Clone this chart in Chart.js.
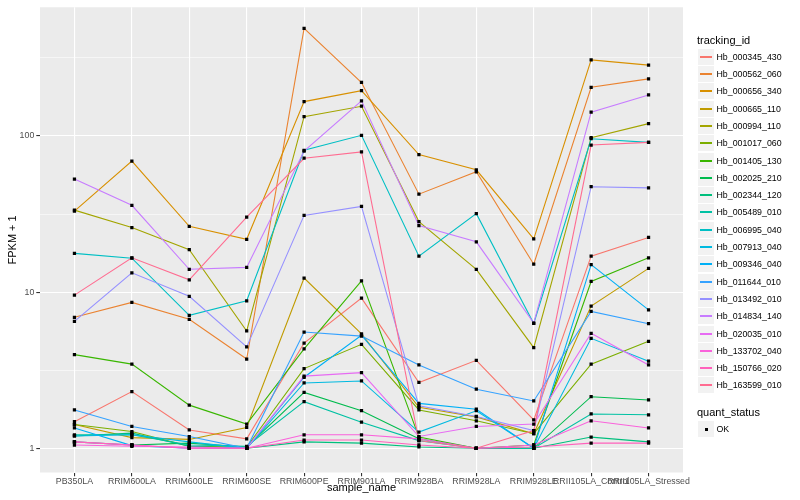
<!DOCTYPE html>
<html>
<head>
<meta charset="utf-8">
<script src="https://cdn.jsdelivr.net/npm/chart.js@4"></script>
<style>
  body { margin: 0; background: #fff; font-family: "Liberation Sans", Arial, sans-serif; }
  #wrap { position: relative; width: 800px; height: 500px; }
  #legend { position: absolute; left: 0; top: 0; width: 800px; height: 500px; pointer-events: none; }
  .ttl { position: absolute; left: 697px; font-size: 11px; color: #000; line-height: 13px; }
  .key { position: absolute; left: 697px; width: 16px; height: 16px; background: #F2F2F2; border: 1px solid #fff; }
  .key i { position: absolute; left: 2px; width: 12px; top: 7px; height: 2px; }
  .lab { position: absolute; left: 716.5px; font-size: 8.8px; color: #000; line-height: 18px; height: 18px; }
</style>
</head>
<body>
<div id="wrap">
  <canvas id="chart" width="800" height="500"></canvas>
  <div id="legend"></div>
</div>
<script>
(function () {
    var categories = ['PB350LA', 'RRIM600LA', 'RRIM600LE', 'RRIM600SE', 'RRIM600PE', 'RRIM901LA',
        'RRIM928BA', 'RRIM928LA', 'RRIM928LE', 'RRII105LA_Control', 'RRII105LA_Stressed'];

    // FPKM + 1, one value per sample_name
    var hb000345_430 = [1.48, 2.31, 1.31, 1.15, 4.72, 9.16, 2.64, 3.66, 1.52, 17.0, 22.4];
    var hb000562_060 = [6.9, 8.6, 6.7, 3.73, 489, 220, 42.4, 59, 15.1, 205, 232];
    var hb000656_340 = [33, 69, 26.4, 21.8, 166, 195, 76, 60.7, 21.9, 307, 284];
    var hb000665_110 = [1.42, 1.17, 1.14, 1.36, 12.3, 5.4, 1.83, 1.59, 1.24, 8.15, 14.2];
    var hb000994_110 = [33.5, 25.9, 18.7, 5.64, 133, 155, 28.3, 14.0, 4.41, 97.5, 120];
    var hb001017_060 = [1.42, 1.28, 1.03, 1.02, 3.24, 4.63, 1.76, 1.50, 1.24, 3.46, 4.84];
    var hb001405_130 = [3.98, 3.46, 1.89, 1.43, 4.33, 11.8, 1.18, 1.0, 1.05, 11.7, 16.6];
    var hb002025_210 = [1.1, 1.05, 1.08, 1.02, 2.28, 1.74, 1.15, 1.0, 1.0, 2.14, 2.04];
    var hb002344_120 = [1.2, 1.25, 1.03, 1.0, 1.10, 1.08, 1.02, 1.0, 1.0, 1.18, 1.10];
    var hb005489_010 = [1.22, 1.22, 1.05, 1.03, 1.99, 1.47, 1.12, 1.0, 1.0, 1.66, 1.64];
    var hb006995_040 = [17.7, 16.5, 7.1, 8.8, 81, 101, 17, 31.8, 6.3, 96, 91];
    var hb007913_040 = [1.2, 1.22, 1.1, 1.0, 2.62, 2.70, 1.27, 1.74, 1.0, 5.06, 3.61];
    var hb009346_040 = [1.35, 1.04, 1.0, 1.0, 2.85, 5.3, 1.94, 1.78, 1.0, 15, 7.7];
    var hb011644_010 = [1.76, 1.38, 1.19, 1.0, 5.55, 5.23, 3.42, 2.39, 2.01, 7.53, 6.28];
    var hb013492_010 = [6.5, 13.3, 9.4, 4.46, 31, 35.4, 1.87, 1.6, 1.30, 47.3, 46.5];
    var hb014834_140 = [53, 36, 14, 14.4, 80, 168, 26.7, 21, 6.34, 142, 183];
    var hb020035_010 = [1.1, 1.05, 1.0, 1.0, 2.9, 3.05, 1.19, 1.38, 1.43, 5.45, 3.42];
    var hb133702_040 = [1.05, 1.03, 1.02, 1.0, 1.22, 1.22, 1.15, 1.0, 1.05, 1.50, 1.35];
    var hb150766_020 = [1.1, 1.05, 1.0, 1.0, 1.13, 1.13, 1.05, 1.0, 1.02, 1.08, 1.08];
    var hb163599_010 = [9.57, 16.6, 12, 30.2, 72, 79, 1.12, 1.0, 1.3, 87.5, 91];

    var trackingIds = ['Hb_000345_430', 'Hb_000562_060', 'Hb_000656_340', 'Hb_000665_110', 'Hb_000994_110',
        'Hb_001017_060', 'Hb_001405_130', 'Hb_002025_210', 'Hb_002344_120', 'Hb_005489_010',
        'Hb_006995_040', 'Hb_007913_040', 'Hb_009346_040', 'Hb_011644_010', 'Hb_013492_010',
        'Hb_014834_140', 'Hb_020035_010', 'Hb_133702_040', 'Hb_150766_020', 'Hb_163599_010'];
    var seriesValues = [hb000345_430, hb000562_060, hb000656_340, hb000665_110, hb000994_110,
        hb001017_060, hb001405_130, hb002025_210, hb002344_120, hb005489_010,
        hb006995_040, hb007913_040, hb009346_040, hb011644_010, hb013492_010,
        hb014834_140, hb020035_010, hb133702_040, hb150766_020, hb163599_010];
    var quantStatus = ['OK'];
    var yTickLabels = [1, 10, 100];

    // ggplot hue palette for 20 groups
    var palette = ['#F8766D', '#EA8331', '#D89000', '#C09B00', '#A3A500', '#7CAE00', '#39B600', '#00BB4E',
        '#00BF7D', '#00C1A3', '#00BFC4', '#00BAE0', '#00B0F6', '#35A2FF', '#9590FF', '#C77CFF',
        '#E76BF3', '#FA62DB', '#FF62BC', '#FF6C91'];

    var minorTicks = yTickLabels.map(function (t) { return t * Math.sqrt(10); });
    var allYTicks = yTickLabels.concat(minorTicks).sort(function (a, b) { return a - b; });
    function isMajor(v) {
        return yTickLabels.some(function (t) { return Math.abs(t - v) < 1e-6; });
    }

    var datasets = [];
    var points = [];
    seriesValues.forEach(function (vals) {
        vals.forEach(function (v, i) { points.push({ x: i, y: v }); });
    });
    datasets.push({
        type: 'scatter',
        label: 'points',
        data: points,
        order: 0,
        showLine: false,
        pointStyle: 'rect',
        pointRadius: 2.3,
        pointBackgroundColor: '#000',
        pointBorderWidth: 0
    });
    seriesValues.forEach(function (vals, k) {
        datasets.push({
            type: 'line',
            label: trackingIds[k],
            data: vals.map(function (v, i) { return { x: i, y: v }; }),
            order: seriesValues.length - k,
            borderColor: palette[k],
            borderWidth: 1.1,
            pointRadius: 0,
            tension: 0,
            fill: false
        });
    });

    var panelBg = {
        id: 'panelBg',
        beforeDraw: function (chart) {
            var a = chart.chartArea, ctx = chart.ctx;
            ctx.save();
            ctx.fillStyle = '#EBEBEB';
            ctx.fillRect(a.left, a.top, a.right - a.left, a.bottom - a.top);
            ctx.restore();
        }
    };

    var font = "'Liberation Sans', Arial, sans-serif";

    new Chart(document.getElementById('chart'), {
        type: 'line',
        data: { datasets: datasets },
        plugins: [panelBg],
        options: {
            responsive: false,
            animation: false,
            devicePixelRatio: 1,
            layout: { padding: { left: 0, right: 117, top: 2.5, bottom: 0 } },
            plugins: { legend: { display: false }, tooltip: { enabled: false } },
            scales: {
                x: {
                    type: 'linear',
                    min: -0.6,
                    max: categories.length - 1 + 0.6,
                    afterFit: function (s) { s.height = 27.5; },
                    afterBuildTicks: function (s) {
                        s.ticks = categories.map(function (c, i) { return { value: i }; });
                    },
                    border: { display: false },
                    grid: {
                        color: '#FFFFFF',
                        lineWidth: 1.1,
                        drawTicks: true,
                        tickLength: 3.7,
                        tickColor: '#333333',
                        tickWidth: 1.1
                    },
                    ticks: {
                        autoSkip: false,
                        maxRotation: 0,
                        minRotation: 0,
                        padding: 0,
                        color: '#4D4D4D',
                        font: { family: font, size: 8.8 },
                        callback: function (v) { return categories[v]; }
                    },
                    title: {
                        display: true,
                        text: 'sample_name',
                        color: '#000',
                        font: { family: font, size: 11 },
                        padding: { top: 0, bottom: 5 }
                    }
                },
                y: {
                    type: 'logarithmic',
                    min: Math.pow(10, -0.1345),
                    max: Math.pow(10, 2.824),
                    afterFit: function (s) { s.width = 40; },
                    afterBuildTicks: function (s) {
                        s.ticks = allYTicks.map(function (v) { return { value: v }; });
                    },
                    border: { display: false },
                    grid: {
                        color: '#FFFFFF',
                        lineWidth: function (c) { return isMajor(c.tick.value) ? 1.1 : 0.55; },
                        drawTicks: true,
                        tickLength: 3.7,
                        tickWidth: 1.1,
                        tickColor: function (c) { return isMajor(c.tick.value) ? '#333333' : 'rgba(0,0,0,0)'; }
                    },
                    ticks: {
                        padding: 2,
                        color: '#4D4D4D',
                        font: { family: font, size: 8.8 },
                        callback: function (v) { return isMajor(v) ? String(Math.round(v)) : ''; }
                    },
                    title: {
                        display: true,
                        text: 'FPKM + 1',
                        color: '#000',
                        font: { family: font, size: 11 },
                        padding: { top: 6, bottom: 0 }
                    }
                }
            }
        }
    });

    // legend, laid out like ggplot's guide on the right
    var legend = document.getElementById('legend');
    var html = '<div class="ttl" style="top:34px">tracking_id</div>';
    var step = 17.3, firstCenter = 56.7;
    trackingIds.forEach(function (id, k) {
        var top = Math.round(firstCenter + k * step - 9);
        html += '<div class="key" style="top:' + top + 'px"><i style="background:' + palette[k] + '"></i></div>';
        html += '<div class="lab" style="top:' + top + 'px">' + id + '</div>';
    });
    html += '<div class="ttl" style="top:405.5px">quant_status</div>';
    quantStatus.forEach(function (q, k) {
        var top = Math.round(429 + k * step - 9);
        html += '<div class="key" style="top:' + top + 'px"><i style="left:6.5px;width:3px;height:3px;top:6.5px;background:#000"></i></div>';
        html += '<div class="lab" style="top:' + top + 'px">' + q + '</div>';
    });
    legend.innerHTML = html;
})();
</script>
</body>
</html>
